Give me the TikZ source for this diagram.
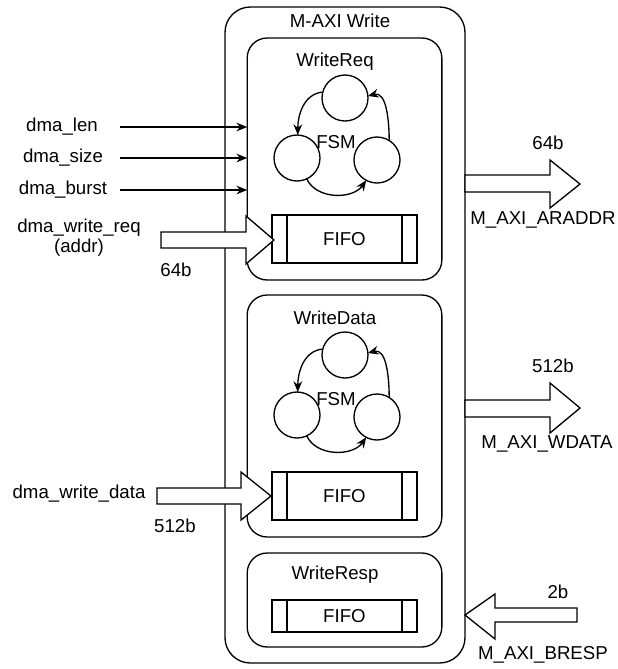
\documentclass[tikz,border=0pt]{standalone}
\usepackage{fontspec}
\setmainfont{Liberation Sans}
\usetikzlibrary{arrows.meta}
\begin{document}
\begin{tikzpicture}[x=0.75pt,y=-0.75pt,line width=1pt,
  every node/.style={font=\fontsize{14}{16}\selectfont, inner sep=0pt, outer sep=0pt},
  outerbox/.style={draw, rounded corners=19pt, minimum width=180pt, minimum height=492pt},
  innerbox/.style={draw, rounded corners=15pt, minimum width=146pt},
  fifobox/.style={draw, fill=white, minimum width=108.75pt},
  state/.style={draw, circle, minimum size=34.5pt},
  sig/.style={-{Stealth[length=8pt,width=6.5pt]}},
  trans/.style={-{Stealth[length=8pt,width=6.5pt]}},
  bigarrow/.style={draw, fill=white, line join=miter}]
\useasboundingbox (0,0) rectangle (618,669);

% outer module
\node[outerbox] (outer) at (345,335) {};
\node (outerlbl) at (340,21) {M-AXI Write};

% sub-blocks
\node[innerbox, minimum height=181.5pt] (req) at (344.5,159) {};
\node[innerbox, minimum height=181.5pt] (dat) at (344.5,416) {};
\node[innerbox, minimum height=70.5pt] (rsp) at (344.5,600) {};
\node (reqlbl) at (335,62) {WriteReq};
\node (datlbl) at (335,318) {WriteData};
\node (rsplbl) at (335,575) {WriteResp};

% FSMs
\foreach \p/\dy in {a/0,b/257}{
  \node[state] (\p t) at (345,98+\dy) {};
  \node[state] (\p l) at (297,158+\dy) {};
  \node[state] (\p r) at (377,160+\dy) {};
  \node (\p fsm) at (336,142+\dy) {FSM};
  \draw[trans] (\p t.165) to[out=185,in=90] (\p l.88);
  \draw[trans] (\p l.-65) to[out=-65,in=-125] (\p r.-118);
  \draw[trans] (\p r.58) to[out=90,in=15] (\p t.5);
}

% FIFOs
\node[fifobox, minimum height=36pt] (f1) at (344.5,239) {FIFO};
\node[fifobox, minimum height=36pt] (f2) at (344.5,496) {FIFO};
\node[fifobox, minimum height=24pt] (f3) at (344.5,616) {FIFO};
\foreach \f in {f1,f2,f3}{
  \draw ([xshift=11.25pt]\f.north west) -- ([xshift=11.25pt]\f.south west);
  \draw ([xshift=-11.25pt]\f.north east) -- ([xshift=-11.25pt]\f.south east);
}

% small input signals
\node (len) at (62,127) {dma\_len};
\node (size) at (63,158) {dma\_size};
\node (burst) at (63,190) {dma\_burst};
\foreach \s in {len,size,burst}{
  \coordinate (\s src) at (120,0 |- \s);
  \draw[sig] (\s src) -- (\s src -| req.west);
}

% dma_write_req big arrow
\node (wreq) at (79,228) {dma\_write\_req};
\node (addr) at (79,248) {(addr)};
\node (wreqw) at (176,270) {64b};
\draw[bigarrow] (161,232) -- (246,232) -- (246,216) -- (274,240) -- (246,264) -- (246,248) -- (161,248) -- cycle;

% dma_write_data big arrow
\node (wdata) at (79,494) {dma\_write\_data};
\node (wdataw) at (175,526) {512b};
\draw[bigarrow] (157,488) -- (241,488) -- (241,472) -- (271,496) -- (241,520) -- (241,504) -- (157,504) -- cycle;

% M_AXI_ARADDR
\node (araddrw) at (548,143) {64b};
\node (araddr) at (543,220) {M\_AXI\_ARADDR};
\draw[bigarrow] (465,175) -- (550,175) -- (550,160) -- (580,184) -- (550,208) -- (550,192) -- (465,192) -- cycle;

% M_AXI_WDATA
\node (wdw) at (553,366) {512b};
\node (wd) at (547,444) {M\_AXI\_WDATA};
\draw[bigarrow] (465,400) -- (550,400) -- (550,383) -- (580,408) -- (550,433) -- (550,417) -- (465,417) -- cycle;

% M_AXI_BRESP
\node (brw) at (558,592) {2b};
\node (br) at (543,655) {M\_AXI\_BRESP};
\draw[bigarrow] (577,608) -- (495,608) -- (495,594) -- (465,615) -- (495,639) -- (495,622) -- (577,622) -- cycle;
\end{tikzpicture}
\end{document}
